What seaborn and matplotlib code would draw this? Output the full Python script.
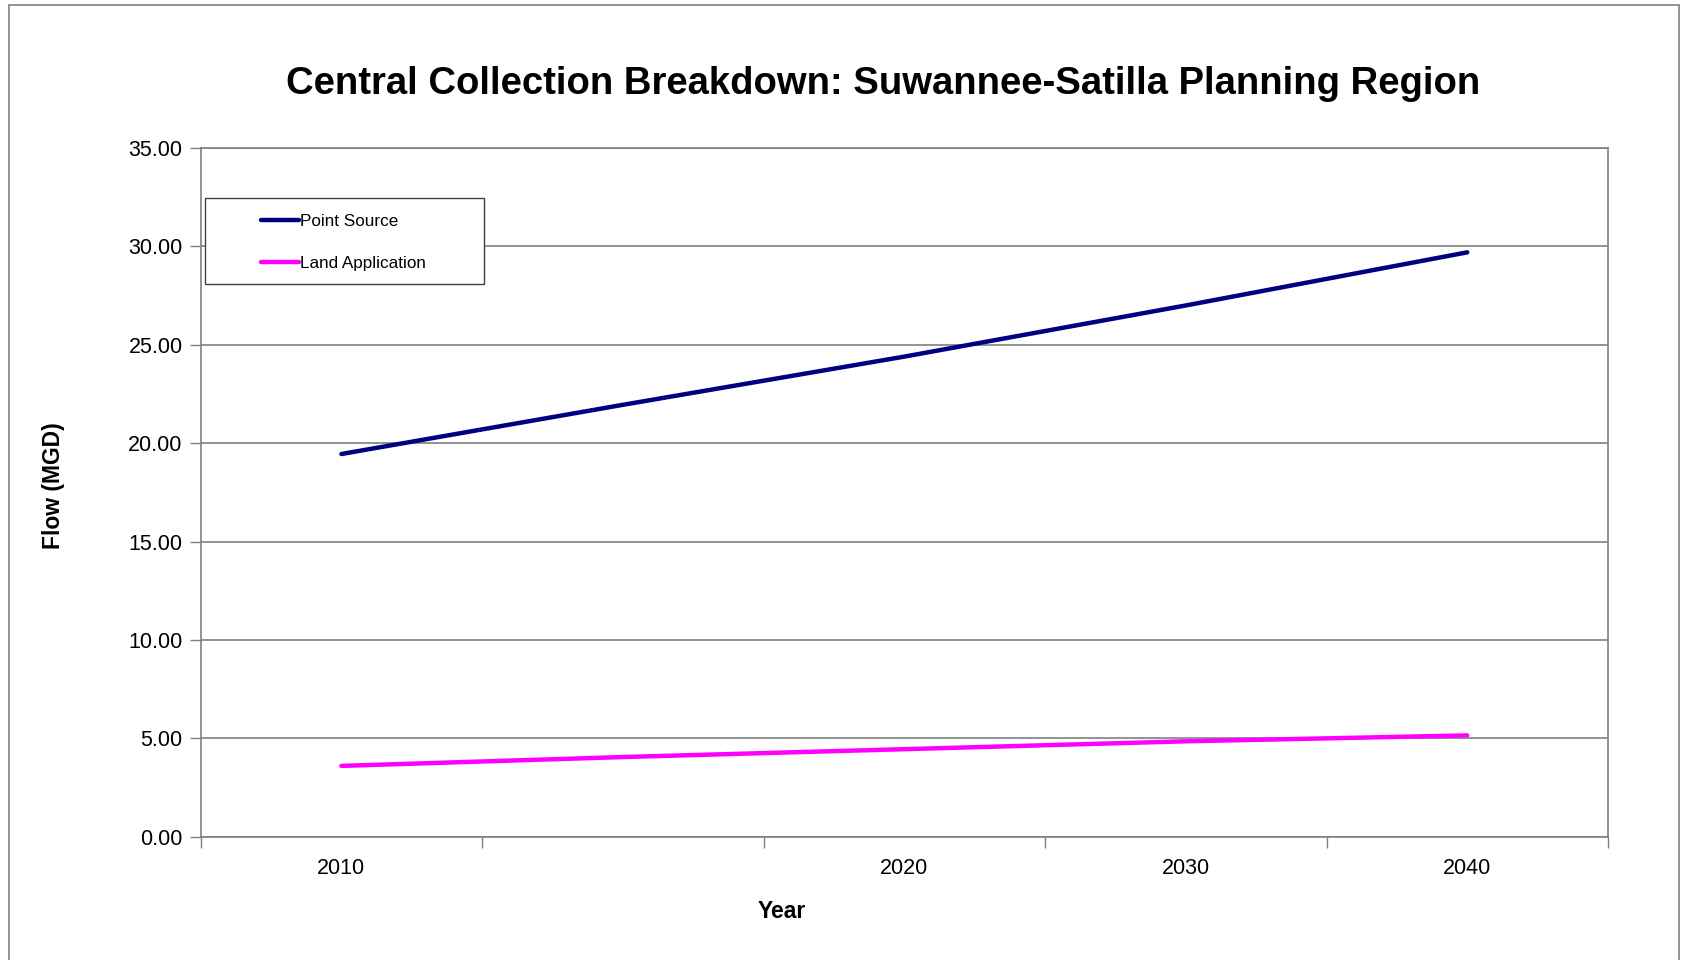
"""
Central Collection Breakdown: Suwannee-Satilla Planning Region
Line chart of projected flow (MGD) by year for two disposal types.
"""

import numpy as np
import pandas as pd
import matplotlib.pyplot as plt
from matplotlib.patches import Rectangle
from matplotlib.lines import Line2D
import seaborn as sns

# -----------------------------------------------
# DATA
# -----------------------------------------------
years = ["2010", "2015", "2020", "2030", "2040"]
year_labels = ["2010", "", "2020", "2030", "2040"]
point_source = [19.45, 21.95, 24.40, 27.00, 29.70]
land_application = [3.60, 4.05, 4.45, 4.85, 5.15]

series_names = ["Point Source", "Land Application"]
series_colors = ["#000080", "#FF00FF"]

# -----------------------------------------------
# STYLE
# -----------------------------------------------
sns.set_theme(style="white")
plt.rcParams["font.family"] = ["Liberation Sans", "DejaVu Sans"]
plt.rcParams["text.color"] = "black"

pos = np.arange(len(years))
df = pd.DataFrame({
    "pos": np.concatenate([pos, pos]),
    "flow": point_source + land_application,
    "series": [series_names[0]] * len(years) + [series_names[1]] * len(years),
})

fig = plt.figure(figsize=(16.82, 9.6), dpi=100)
ax = fig.add_axes([0.1193, 0.1284, 0.9560 - 0.1193, 0.8458 - 0.1284])

sns.lineplot(data=df, x="pos", y="flow", hue="series",
             palette=dict(zip(series_names, series_colors)),
             linewidth=3.2, legend=False, ax=ax)

# axes limits and ticks (category-style axis)
ax.set_xlim(-0.5, len(years) - 0.5)
ax.set_ylim(0, 35)
ax.set_yticks(np.arange(0, 35.01, 5))
ax.set_yticklabels([f"{v:.2f}" for v in np.arange(0, 35.01, 5)])
ax.set_xticks(np.arange(-0.5, len(years), 1.0))
ax.set_xticklabels([])
ax.set_xticks(pos, minor=True)
ax.set_xticklabels(year_labels, minor=True)

ax.tick_params(axis="y", which="major", direction="out", length=8,
               width=1, color="#808080", labelsize=15.5, pad=5,
               labelcolor="black", left=True)
ax.tick_params(axis="x", which="major", direction="out", length=8,
               width=1, color="#808080", bottom=True)
ax.tick_params(axis="x", which="minor", length=0, labelsize=15.5,
               pad=15, labelcolor="black")

ax.yaxis.grid(True, color="#808080", linewidth=1.2)
ax.xaxis.grid(False)
for side in ["left", "right", "top", "bottom"]:
    ax.spines[side].set_color("#808080")
    ax.spines[side].set_linewidth(1.2)
ax.set_xlabel("")
ax.set_ylabel("")

# titles and axis labels
fig.text(0.525, 0.912, "Central Collection Breakdown: Suwannee-Satilla Planning Region",
         ha="center", va="center", fontsize=27.5, fontweight="bold", color="black")
fig.text(0.465, 0.050, "Year", ha="center", va="center",
         fontsize=16.5, fontweight="bold", color="black")
fig.text(0.032, 0.494, "Flow (MGD)", ha="center", va="center",
         rotation=90, fontsize=16.5, fontweight="bold", color="black")

# legend with a hand-drawn box
fig.patches.append(Rectangle((205 / 1682, 1 - 284 / 960), 279 / 1682, 85.5 / 960,
                             transform=fig.transFigure, fill=True,
                             facecolor="white", edgecolor="#404040",
                             linewidth=1.0, zorder=3))
handles = [Line2D([0], [0], color=c, linewidth=3.2) for c in series_colors]
leg = fig.legend(handles, series_names, loc="upper left",
                 bbox_to_anchor=(252 / 1682, 1 - 205 / 960),
                 frameon=False, fontsize=12.3, borderpad=0,
                 handlelength=2.28, handletextpad=0.05, labelspacing=1.6)
leg.set_zorder(4)
for t in leg.get_texts():
    t.set_color("black")

# outer chart border
fig.patches.append(Rectangle((9 / 1682, -0.01), 1670 / 1682, 1 - 5 / 960 + 0.01,
                             transform=fig.transFigure, fill=False,
                             edgecolor="#808080", linewidth=1.2))

plt.savefig("out.png", dpi=100)
plt.close()
